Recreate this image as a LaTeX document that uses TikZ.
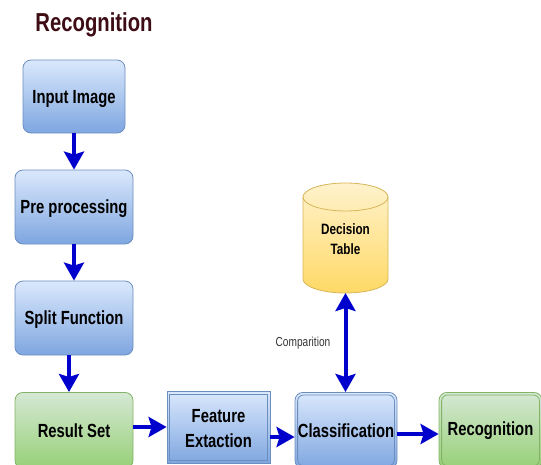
\documentclass[tikz,border=0pt]{standalone}
\usepackage{fontspec}
\setmainfont{Liberation Sans}[FakeStretch=0.78]
\usetikzlibrary{arrows.meta,shapes.geometric}
\definecolor{blueTop}{HTML}{DAE8FC}
\definecolor{blueBot}{HTML}{7EA6E0}
\definecolor{blueLine}{HTML}{6C8EBF}
\definecolor{greenTop}{HTML}{D5E8D4}
\definecolor{greenBot}{HTML}{97D077}
\definecolor{greenLine}{HTML}{82B366}
\definecolor{yelTop}{HTML}{FFF2CC}
\definecolor{yelBot}{HTML}{FFD966}
\definecolor{yelLine}{HTML}{D6B656}
\definecolor{flow}{HTML}{0000CC}
\definecolor{titleCol}{HTML}{3D0C14}
\tikzset{
  lbl/.style={font=\bfseries\fontsize{19}{24}\selectfont, align=center},
  box/.style={draw=blueLine, line width=0.8pt, rounded corners=8pt, top color=blueTop, bottom color=blueBot,
    lbl, inner sep=0pt, text depth=-1pt},
  gbox/.style={box, draw=greenLine, top color=greenTop, bottom color=greenBot},
  flowtip/.tip={Stealth[length=18pt,width=20pt,inset=3pt]},
  flowarrow/.style={draw=flow, line width=4pt, -{flowtip}},
  flowboth/.style={draw=flow, line width=4pt, {flowtip}-{flowtip}},
}
\begin{document}
\begin{tikzpicture}[x=1pt,y=-1pt]
  \useasboundingbox (0,0) rectangle (541,464);
  \clip (0,0) rectangle (541,464);

  \node[font=\bfseries\fontsize{26}{30}\selectfont, text=titleCol] (title) at (94,25) {Recognition};

  \node[box, minimum width=102pt, minimum height=73pt] (input) at (74,96.5) {Input Image};
  \node[box, minimum width=118pt, minimum height=74pt] (pre) at (74,207) {Pre processing};
  \node[box, minimum width=118pt, minimum height=74pt] (split) at (74,318) {Split Function};
  \node[gbox, minimum width=118pt, minimum height=76pt, anchor=north] (result) at (74,392) {};
  \node[lbl] (resultlbl) at (74,431) {Result Set};

  % feature extraction: square box with inner frame
  \node[box, rounded corners=0pt, minimum width=103pt, minimum height=72pt, anchor=north] (feat) at (218.5,391) {};
  \draw[blueLine, line width=0.8pt] ([shift={(3,3)}]feat.north west) rectangle ([shift={(-3,-3)}]feat.south east);
  \node[lbl, font=\bfseries\fontsize{19}{25}\selectfont] (featlbl) at (218.5,429) {Feature\\Extaction};

  \node[box, minimum width=102pt, minimum height=76pt, anchor=north] (cls) at (346,392) {};
  \draw[blueLine, line width=0.8pt, rounded corners=6pt] ([shift={(3,3)}]cls.north west) rectangle ([shift={(-3,-3)}]cls.south east);
  \node[lbl] (clslbl) at (346,431) {Classification};

  \node[gbox, minimum width=103pt, minimum height=76pt, anchor=north] (rec) at (490.5,392) {};
  \draw[greenLine, line width=0.8pt, rounded corners=6pt] ([shift={(3,3)}]rec.north west) rectangle ([shift={(-3,-3)}]rec.south east);
  \node[lbl] (reclbl) at (490.5,431) {Recognition};

  % decision table cylinder
  \path[top color=yelTop, bottom color=yelBot, draw=yelLine, line width=0.8pt]
    (303,197) -- (303,279) arc[start angle=180, end angle=360, x radius=42.5pt, y radius=14pt]
    -- (388,197) arc[start angle=0, end angle=180, x radius=42.5pt, y radius=14pt] -- cycle;
  \draw[yelLine, line width=0.8pt] (303,197) arc[start angle=180, end angle=360, x radius=42.5pt, y radius=14pt];
  \node[font=\bfseries\fontsize{15}{20}\selectfont, align=center] (dt) at (345.5,239) {Decision\\Table};
  \coordinate (dtbottom) at (345.5,293);

  \node[font=\fontsize{13}{15}\selectfont, text=black!80] (cmp) at (303,343) {Comparition};

  \draw[flowarrow] (input.south) -- (pre.north);
  \draw[flowarrow] (pre.south) -- (split.north);
  \draw[flowarrow] ([xshift=-5pt]split.south) -- ([xshift=-5pt]result.north);
  \draw[flowarrow] (133,427) -- (feat.west |- 0,427);
  \draw[flowarrow] (feat.east |- 0,437) -- (cls.west |- 0,437);
  \draw[flowarrow] (cls.east |- 0,434) -- (rec.west |- 0,434);
  \draw[flowboth] (dtbottom) -- (cls.north -| dtbottom);
\end{tikzpicture}
\end{document}
